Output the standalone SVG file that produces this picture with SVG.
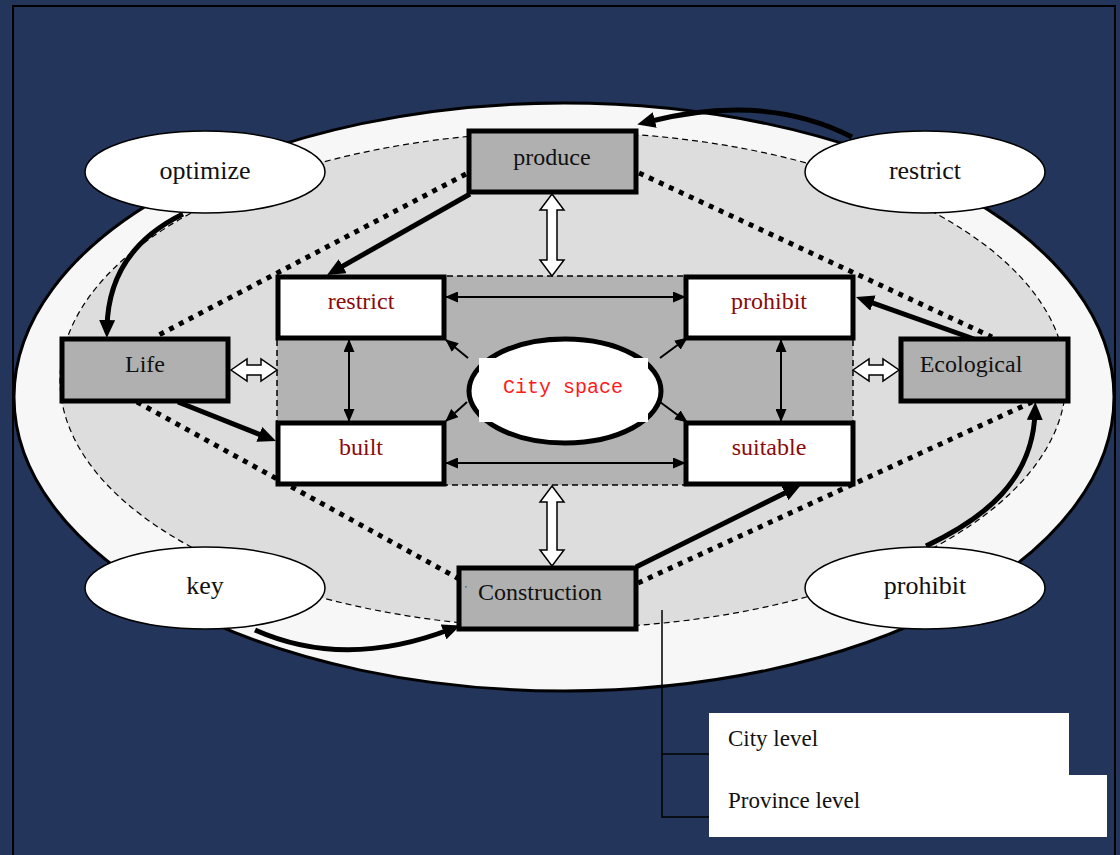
<svg xmlns="http://www.w3.org/2000/svg" width="1120" height="855" viewBox="0 0 1120 855">
<defs>
<style>
.serif{font-family:"Liberation Serif","Times New Roman",serif;}
.box{stroke:#000;stroke-width:5;}
.gbox{fill:#b0b0b0;}
.wbox{fill:#fff;}
.lbl{font-size:24px;text-anchor:middle;fill:#111;}
.red{font-size:24px;text-anchor:middle;fill:#8b0a0a;}
.ell{fill:#fff;stroke:#000;stroke-width:1.5;}
.elbl{font-size:26px;text-anchor:middle;fill:#111;}
.thick{fill:none;stroke:#000;stroke-width:5;marker-end:url(#hk);}
.thin{fill:none;stroke:#000;stroke-width:2;marker-end:url(#ht);}
.dbl{marker-start:url(#ht);}
.dot{fill:none;stroke:#000;stroke-width:5;stroke-dasharray:5 6;}
.hollow{fill:#fff;stroke:#000;stroke-width:1.5;stroke-linejoin:miter;}
</style>
<marker id="hk" markerUnits="userSpaceOnUse" markerWidth="18" markerHeight="16" refX="8" refY="8" orient="auto"><path d="M0,0 L18,8 L0,16 z" fill="#000"/></marker>
<marker id="ht" markerUnits="userSpaceOnUse" markerWidth="13" markerHeight="11" refX="12" refY="5.5" orient="auto-start-reverse"><path d="M0,0 L13,5.5 L0,11 z" fill="#000"/></marker>
</defs>
<rect x="0" y="0" width="1120" height="855" fill="#23355a"/>
<rect x="13" y="6" width="1102" height="870" fill="none" stroke="#000" stroke-width="2"/>
<g id="background">
<ellipse cx="564" cy="397" rx="550" ry="294" fill="#f7f7f7" stroke="#000" stroke-width="3"/>
<ellipse cx="563" cy="380" rx="503" ry="248" fill="#dddddd" stroke="#000" stroke-width="1.2" stroke-dasharray="6 4"/>
<rect x="277" y="276" width="576" height="209" fill="#b3b3b3" stroke="#000" stroke-width="1.5" stroke-dasharray="6 4"/>
</g>
<g id="connectors">
<path class="dot" d="M466,174 L155,337"/>
<path class="dot" d="M639,173 L992,337"/>
<path class="dot" d="M137,402 L461,580"/>
<path class="dot" d="M638,583 L1032,402"/>
<path class="thick" d="M470,194 L335.7,270.1"/>
<path class="thick" d="M178,402 L266.7,437.3"/>
<path class="thick" d="M636,567 L792,489.5"/>
<path class="thick" d="M974,339 L865.4,300.4"/>
<path class="thick" d="M183,214 C140,235 108,270 107,328"/>
<path class="thick" d="M852,137 Q765,92 647,122"/>
<path class="thick" d="M255,630 Q345,670 451,629"/>
<path class="thick" d="M926,546 C985,518 1033,480 1035,412"/>
<path class="thin dbl" d="M446,297 L685,297"/>
<path class="thin dbl" d="M446,463 L685,463"/>
<path class="thin dbl" d="M349,340 L349,421"/>
<path class="thin dbl" d="M781,340 L781,421"/>
<path class="thin" d="M468,358 L446,340"/>
<path class="thin" d="M467,402 L446,421"/>
<path class="thin" d="M660,358 L687,338"/>
<path class="thin" d="M660,402 L687,422"/>
<polygon class="hollow" points="552,194 564,210 557,210 557,260 564,260 552,276 540,260 547,260 547,210 540,210"/>
<polygon class="hollow" points="552,486 564,502 557,502 557,550 564,550 552,566 540,550 547,550 547,502 540,502"/>
<polygon class="hollow" points="231,370 247,359 247,365 261,365 261,359 277,370 261,381 261,375 247,375 247,381"/>
<polygon class="hollow" points="853,370 869,359 869,365 883,365 883,359 899,370 883,381 883,375 869,375 869,381"/>
</g>
<g id="n-produce"><rect class="box gbox" x="469" y="131" width="167" height="61"/><text class="serif lbl" x="552" y="165">produce</text></g>
<g id="n-life"><rect class="box gbox" x="62" y="339" width="166" height="62"/><text class="serif lbl" x="145" y="372">Life</text></g>
<g id="n-ecological"><rect class="box gbox" x="901" y="339" width="167" height="62"/><text class="serif lbl" x="971" y="372">Ecological</text></g>
<g id="n-construction"><rect class="box gbox" x="459" y="568" width="177" height="61"/><text class="serif" x="465" y="592" font-size="9" fill="#111">′</text><text class="serif lbl" x="540" y="600">Construction</text></g>
<g id="n-restrict"><rect class="box wbox" x="278" y="277" width="166" height="61"/><text class="serif red" x="361" y="309">restrict</text></g>
<g id="n-prohibit"><rect class="box wbox" x="686" y="277" width="167" height="61"/><text class="serif red" x="769" y="309">prohibit</text></g>
<g id="n-built"><rect class="box wbox" x="278" y="423" width="166" height="61"/><text class="serif red" x="361" y="455">built</text></g>
<g id="n-suitable"><rect class="box wbox" x="686" y="423" width="167" height="61"/><text class="serif red" x="769" y="455">suitable</text></g>
<g id="n-cityspace">
<ellipse cx="565" cy="391" rx="96" ry="52" fill="#fff" stroke="#000" stroke-width="5"/>
<rect x="479" y="358" width="169" height="64" fill="#fff"/>
<text x="563" y="393" font-family="'Liberation Mono','Courier New',monospace" font-size="20" text-anchor="middle" fill="#ff1a1a">City space</text>
</g>
<g id="n-optimize"><ellipse class="ell" cx="205" cy="172" rx="120" ry="41"/><text class="serif elbl" x="205" y="179">optimize</text></g>
<g id="n-restrict2"><ellipse class="ell" cx="925" cy="172" rx="120" ry="41"/><text class="serif elbl" x="925" y="179">restrict</text></g>
<g id="n-key"><ellipse class="ell" cx="205" cy="588" rx="120" ry="41"/><text class="serif elbl" x="205" y="594">key</text></g>
<g id="n-prohibit2"><ellipse class="ell" cx="925" cy="588" rx="120" ry="41"/><text class="serif elbl" x="925" y="594">prohibit</text></g>
<g id="legend">
<path d="M662,610 L662,817 L709,817 M662,754 L709,754" fill="none" stroke="#000" stroke-width="1.5"/>
<path d="M709,713 L1069,713 L1069,775 L1107,775 L1107,837 L709,837 z" fill="#fff"/>
<text class="serif" x="728" y="746" font-size="23" fill="#111">City level</text>
<text class="serif" x="728" y="808" font-size="23" fill="#111">Province level</text>
</g>
</svg>
